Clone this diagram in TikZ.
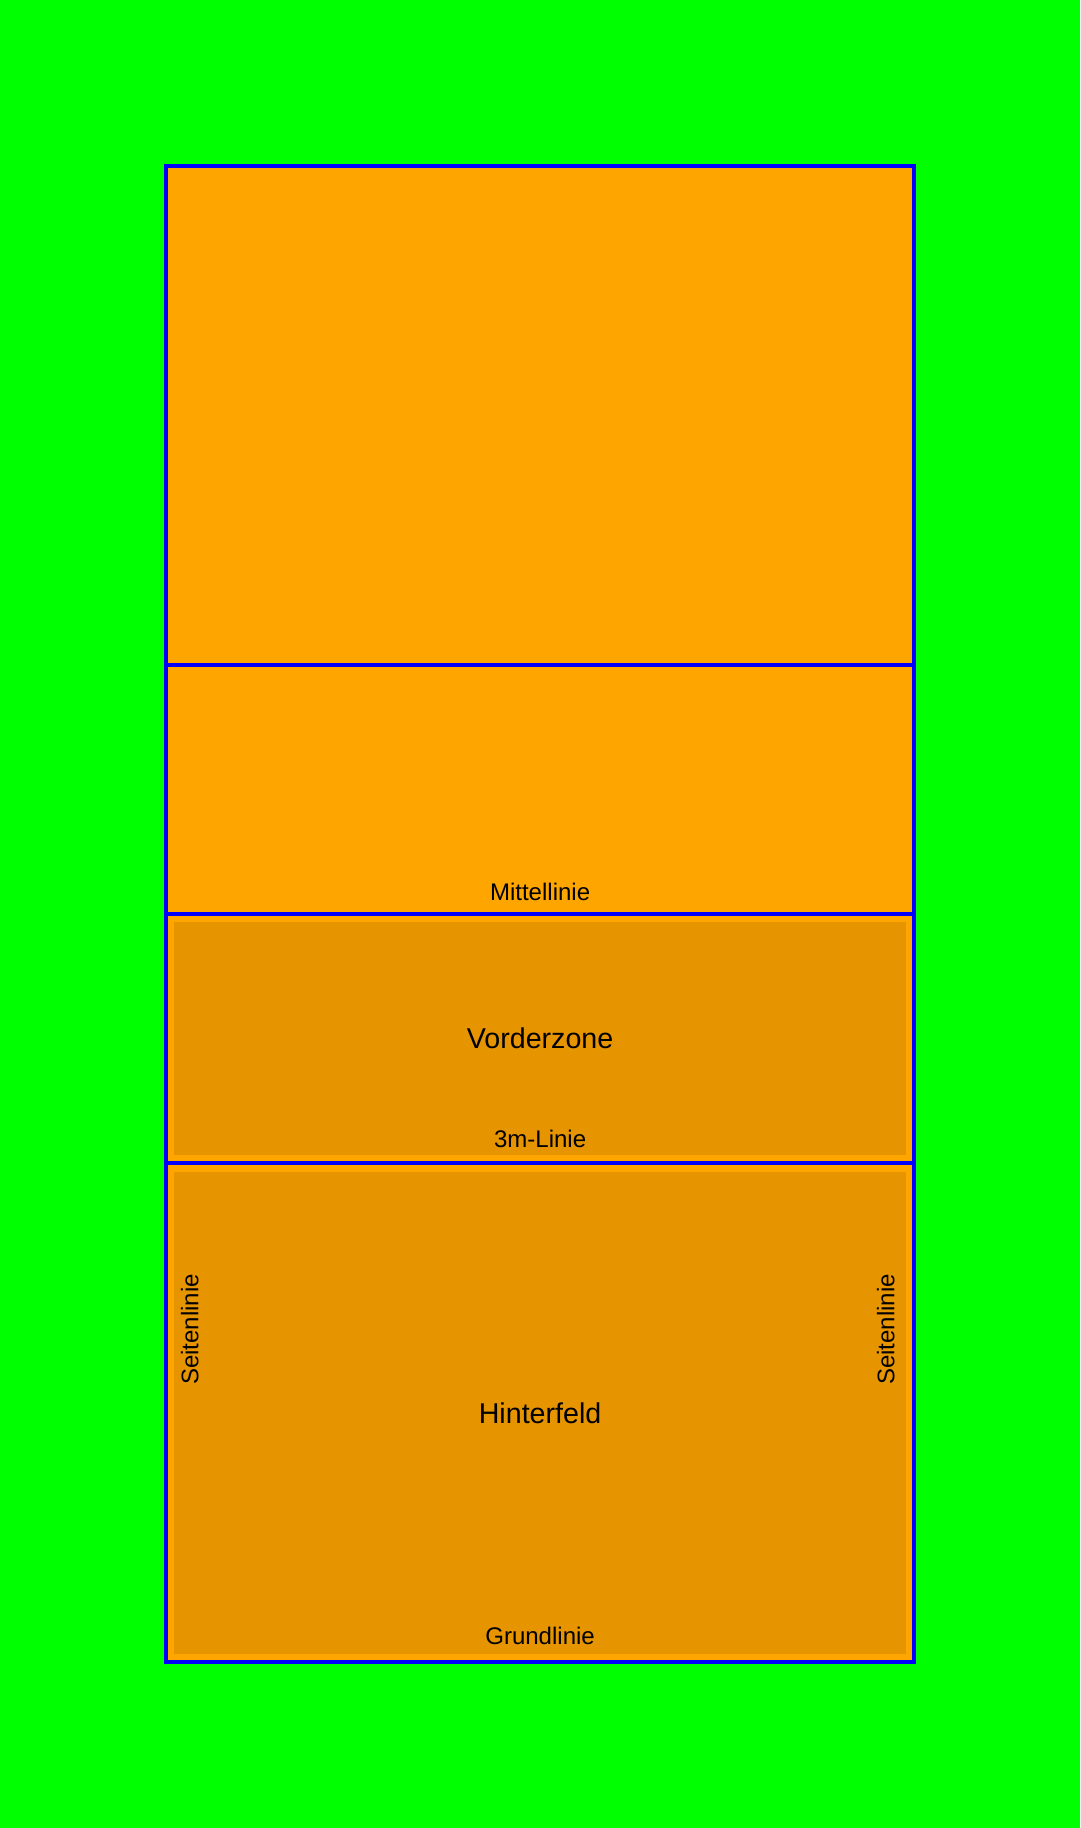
\documentclass[tikz,border=0pt]{standalone}
\usepackage{fontspec}
\setmainfont{Liberation Sans}
\usepackage{tikz}
\definecolor{fieldGreen}{HTML}{00FF00}
\definecolor{courtOrange}{HTML}{FFA500}
\definecolor{zoneOrange}{HTML}{E69400}
\definecolor{lineBlue}{HTML}{0000FF}
\tikzset{
  court/.style={fill=courtOrange},
  zone/.style={fill=zoneOrange},
  courtline/.style={draw=lineBlue, line width=2pt},
  linelabel/.style={font=\fontsize{12}{14}\selectfont, inner sep=0pt, anchor=base},
  zonelabel/.style={font=\fontsize{14.3}{17}\selectfont, inner sep=0pt, anchor=base},
  sidelabel/.style={font=\fontsize{12}{14}\selectfont, inner sep=0pt, rotate=90}
}

\begin{document}
\begin{tikzpicture}[x=41.5pt,y=41.5pt]
  % surrounding area
  \fill[fieldGreen] (-2,-2) rectangle (11,20);
  \useasboundingbox (-2,-2) rectangle (11,20);
  % court surface
  \fill[court] (0,0) rectangle (9,18);
  % front zone and back field
  \fill[zone] (0.1,6.1) rectangle (8.9,8.9);
  \fill[zone] (0.1,0.1) rectangle (8.9,5.9);
  % outer lines
  \draw[courtline] (0,0) rectangle (9,18);
  % cross lines
  \foreach \y in {6,9,12}
  {
    \draw[courtline] (0,\y) -- (9,\y);
  }
  % line labels
  \node[linelabel] (mittellinie) at (4.5,9.16) {Mittellinie};
  \node[linelabel] (dreimlinie) at (4.5,6.19) {3m-Linie};
  \node[linelabel] (grundlinie) at (4.5,0.21) {Grundlinie};
  \node[sidelabel] (seiteLinks) at (0.285,4) {Seitenlinie};
  \node[sidelabel] (seiteRechts) at (8.66,4) {Seitenlinie};
  % zone labels
  \node[zonelabel] (vorderzone) at (4.5,7.38) {Vorderzone};
  \node[zonelabel] (hinterfeld) at (4.5,2.87) {Hinterfeld};
\end{tikzpicture}
\end{document}
